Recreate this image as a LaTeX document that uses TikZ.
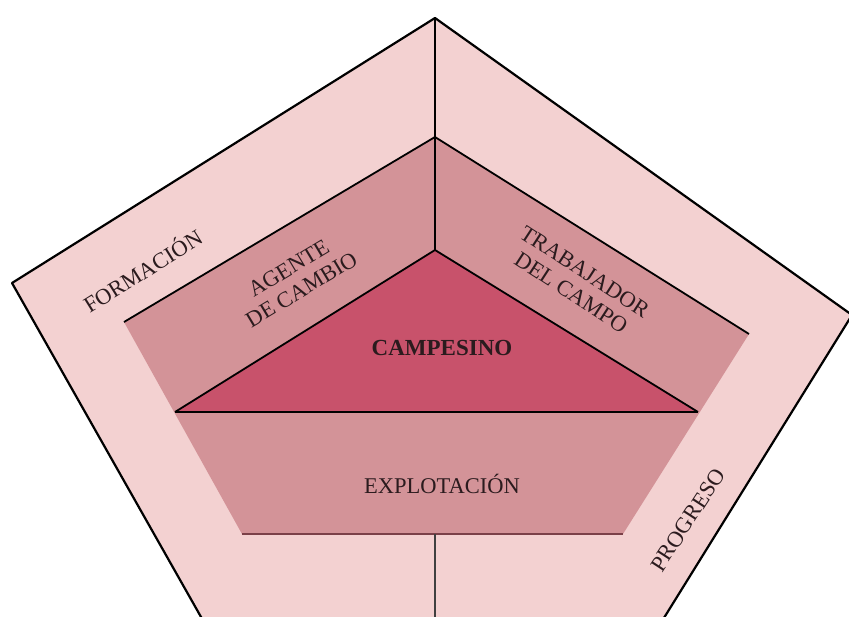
\documentclass[tikz,border=0pt]{standalone}
\usepackage{fontspec}
\setmainfont{Liberation Serif}
\definecolor{outerpink}{HTML}{F3D1D1}
\definecolor{midpink}{HTML}{D39398}
\definecolor{tripink}{HTML}{C8526B}
\definecolor{txt}{HTML}{2B1B1E}
\definecolor{rosedark}{HTML}{7A4048}
\begin{document}
\begin{tikzpicture}[x=1pt,y=-1pt,
  edge/.style={draw=black, line width=2.2pt, line join=round},
  lbl/.style={text=txt, font=\fontsize{22.5}{25}\selectfont, inner sep=0pt}]
\useasboundingbox (0,0) rectangle (849,616);
\clip (0,0) rectangle (849,616);
\fill[white] (0,0) rectangle (849,616);
% coordinates
\coordinate (OT) at (435,18);
\coordinate (OR) at (852,315);
\coordinate (OBR) at (613,700);
\coordinate (OBL) at (248,700);
\coordinate (OL) at (12,283);
\coordinate (MT) at (435,137);
\coordinate (MR) at (749,334);
\coordinate (MBR) at (623,534);
\coordinate (MBL) at (242,534);
\coordinate (ML) at (124,322);
\coordinate (TA) at (435,250);
\coordinate (TL) at (175,412);
\coordinate (TR) at (698,412);
\coordinate (BB) at (435,534);
\coordinate (BE) at (435,620);
% outer pentagon
\fill[outerpink] (OT) -- (OR) -- (OBR) -- (OBL) -- (OL) -- cycle;
\draw[edge] (OBL) -- (OL) -- (OT) -- (OR) -- (OBR);
% middle pentagon
\fill[midpink] (MT) -- (MR) -- (MBR) -- (MBL) -- (ML) -- cycle;
\draw[edge, line width=1.8pt] (ML) -- (MT) -- (MR);
\draw[rosedark, line width=1.3pt] (MBL) -- (MBR);
% triangle
\fill[tripink] (TA) -- (TR) -- (TL) -- cycle;
\draw[edge, line width=1.8pt] (TL) -- (TA) -- (TR);
\draw[edge, line width=2.6pt] (TL) -- (TR);
% vertical lines
\draw[edge] (OT) -- (TA);
\draw[draw=black!75, line width=1.2pt] (BB) -- (BE);
% labels
\node[lbl, rotate=32] (form) at (142,270) {FORMACIÓN};
\node[lbl, rotate=31, align=center] (agente) at (295,279) {AGENTE\\DE CAMBIO};
\node[lbl, rotate=-33, align=center] (trab) at (578,282) {TRABAJADOR\\DEL CAMPO};
\node[lbl, font=\fontsize{23}{25}\selectfont\bfseries] (camp) at (442,348) {CAMPESINO};
\node[lbl] (expl) at (442,484) {EXPLOTACIÓN};
\node[lbl, rotate=57] (prog) at (688,520) {PROGRESO};
\end{tikzpicture}
\end{document}
